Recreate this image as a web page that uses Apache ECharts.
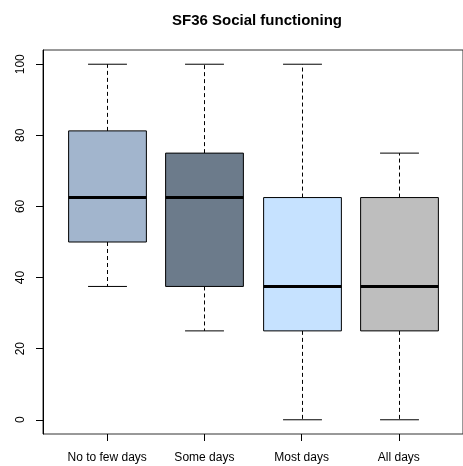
<!DOCTYPE html>
<html>
<head>
<meta charset="utf-8">
<script src="https://cdn.jsdelivr.net/npm/echarts@6/dist/echarts.min.js"></script>
<style>
  html, body { margin: 0; padding: 0; background: #fff; }
  #chart { width: 463px; height: 466px; }
</style>
</head>
<body>
<div id="chart"></div>
<script>
// Group labels and five-number summaries per group
const categories = ['No to few days', 'Some days', 'Most days', 'All days'];
const lowerWhisker = [37.5, 25, 0, 0];
const lowerQuartile = [50, 37.5, 25, 25];
const medians = [62.5, 62.5, 37.5, 37.5];
const upperQuartile = [81.25, 75, 62.5, 62.5];
const upperWhisker = [100, 100, 100, 75];
const boxColors = ['#A2B5CD', '#6C7B8B', '#C6E2FF', '#BEBEBE'];
const yTicks = [0, 20, 40, 60, 80, 100];
const xPositions = [1, 2, 3, 4];

const FONT = '"Liberation Sans", Arial, Helvetica, sans-serif';
const BOX_WIDTH = 0.8;
const CAP_WIDTH = 0.4;

const boxData = categories.map((c, i) => [
  xPositions[i], lowerWhisker[i], lowerQuartile[i], medians[i], upperQuartile[i], upperWhisker[i], i
]);

function renderBox(params, api) {
  const x = api.value(0);
  const idx = api.value(6);
  const pLo = api.coord([x, api.value(1)]);
  const pQ1 = api.coord([x, api.value(2)]);
  const pMed = api.coord([x, api.value(3)]);
  const pQ3 = api.coord([x, api.value(4)]);
  const pHi = api.coord([x, api.value(5)]);
  const halfBox = api.size([BOX_WIDTH, 0])[0] / 2;
  const halfCap = api.size([CAP_WIDTH, 0])[0] / 2;
  const cx = Math.round(pMed[0]) + 0.5;
  const dash = { stroke: '#000', lineWidth: 1, lineDash: [4, 3] };
  const solid = { stroke: '#000', lineWidth: 1 };
  return {
    type: 'group',
    children: [
      { type: 'line', shape: { x1: cx, y1: pQ3[1], x2: cx, y2: pHi[1] }, style: dash },
      { type: 'line', shape: { x1: cx, y1: pQ1[1], x2: cx, y2: pLo[1] }, style: dash },
      { type: 'line', shape: { x1: cx - halfCap, y1: pHi[1], x2: cx + halfCap, y2: pHi[1] }, style: solid },
      { type: 'line', shape: { x1: cx - halfCap, y1: pLo[1], x2: cx + halfCap, y2: pLo[1] }, style: solid },
      {
        type: 'rect',
        shape: { x: cx - halfBox, y: pQ3[1], width: halfBox * 2, height: pQ1[1] - pQ3[1] },
        style: { fill: boxColors[idx], stroke: '#000', lineWidth: 1 }
      },
      { type: 'line', shape: { x1: cx - halfBox, y1: pMed[1], x2: cx + halfBox, y2: pMed[1] }, style: { stroke: '#000', lineWidth: 3 } }
    ]
  };
}

const chart = echarts.init(document.getElementById('chart'), null, { renderer: 'canvas' });
chart.setOption({
  animation: false,
  backgroundColor: '#fff',
  title: {
    text: 'SF36 Social functioning',
    left: 257,
    top: 13,
    padding: 0,
    textAlign: 'center',
    textStyle: { fontFamily: FONT, fontSize: 15, fontWeight: 'bold', color: '#000' }
  },
  grid: {
    left: 43, top: 50, width: 428.5, height: 384,
    show: true, borderColor: '#333', borderWidth: 1, backgroundColor: 'transparent'
  },
  xAxis: {
    type: 'value',
    min: 0.34,
    max: 4.66,
    axisLine: { show: false, onZero: false },
    splitLine: { show: false },
    axisTick: { show: true, customValues: xPositions, length: 7, lineStyle: { color: '#000' } },
    axisLabel: {
      customValues: xPositions,
      margin: 18,
      fontFamily: FONT, fontSize: 12, color: '#000',
      formatter: v => categories[Math.round(v) - 1] || ''
    }
  },
  yAxis: {
    type: 'value',
    min: -4,
    max: 104,
    axisLine: { show: true, onZero: false, lineStyle: { color: '#000' } },
    splitLine: { show: false },
    axisTick: { show: true, customValues: yTicks, length: 7, lineStyle: { color: '#000' } },
    axisLabel: {
      customValues: yTicks,
      rotate: 90,
      margin: 16,
      fontFamily: FONT, fontSize: 12, color: '#000'
    }
  },
  series: [{
    type: 'custom',
    renderItem: renderBox,
    data: boxData,
    encode: { x: 0, y: [1, 2, 3, 4, 5] },
    clip: false
  }]
});
</script>
</body>
</html>
